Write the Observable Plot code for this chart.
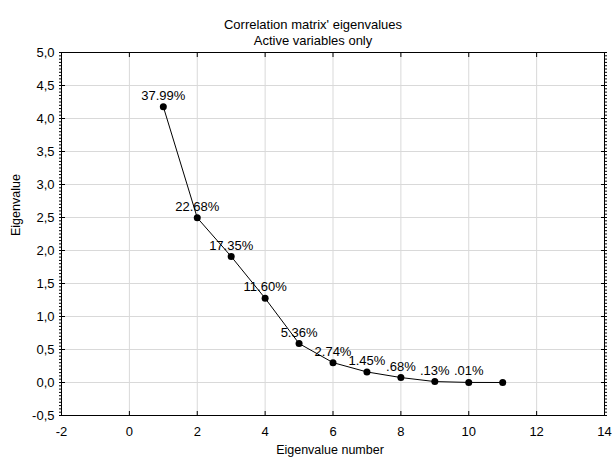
<!DOCTYPE html>
<html>
<head>
<meta charset="utf-8">
<script src="https://cdn.jsdelivr.net/npm/d3@7"></script>
<script src="https://cdn.jsdelivr.net/npm/@observablehq/plot@0.6"></script>
<style>
  html, body { margin: 0; padding: 0; background: #fff; }
  svg { display: block; }
</style>
</head>
<body>
<div id="chart"></div>
<script>
const eigenNumbers = [1, 2, 3, 4, 5, 6, 7, 8, 9, 10, 11];
const eigenvalues = [4.179, 2.495, 1.909, 1.276, 0.590, 0.301, 0.160, 0.075, 0.014, 0.001, 0.000];
const pctLabels = ["37.99%", "22.68%", "17.35%", "11.60%", "5.36%", "2.74%", "1.45%", ".68%", ".13%", ".01%", ""];
const xTicks = [-2, 0, 2, 4, 6, 8, 10, 12, 14];
const yTicks = [-0.5, 0, 0.5, 1, 1.5, 2, 2.5, 3, 3.5, 4, 4.5, 5];
const titleLines = ["Correlation matrix' eigenvalues", "Active variables only"];

const data = eigenNumbers.map((n, i) => ({n, v: eigenvalues[i], label: pctLabels[i]}));
const minorY = d3.range(-0.5, 5.0001, 0.05);
const fmtY = d => d.toFixed(1).replace(".", ",").replace("\u2212", "-");
const blank = () => "";

const font = "Liberation Sans, Arial, sans-serif";

const chart = Plot.plot({
  width: 614,
  height: 459,
  marginLeft: 61,
  marginRight: 10,
  marginTop: 52,
  marginBottom: 44,
  style: {fontFamily: font, fontSize: "13px", color: "#000", background: "#fff"},
  x: {domain: [-2, 14]},
  y: {domain: [-0.5, 5]},
  marks: [
    Plot.gridX(xTicks, {stroke: "#d9d9d9", strokeOpacity: 1}),
    Plot.gridY(yTicks, {stroke: "#d9d9d9", strokeOpacity: 1}),
    Plot.frame({stroke: "#000", strokeWidth: 1}),
    Plot.axisX({ticks: xTicks, tickSize: 0, tickPadding: 11, tickFormat: d => String(d), fontSize: 13, label: null}),
    Plot.axisX({ticks: xTicks, anchor: "bottom", tickSize: -4, tickFormat: blank, label: null}),
    Plot.axisX({ticks: xTicks, anchor: "top", tickSize: -4, tickFormat: blank, label: null}),
    Plot.axisY({ticks: yTicks, tickSize: 0, tickPadding: 7, tickFormat: fmtY, fontSize: 13, label: null}),
    Plot.axisY({ticks: yTicks, anchor: "left", tickSize: -4, tickFormat: blank, label: null}),
    Plot.axisY({ticks: minorY, anchor: "left", tickSize: 2, tickFormat: blank, label: null}),
    Plot.axisY({ticks: yTicks, anchor: "right", tickSize: -4, tickFormat: blank, label: null}),
    Plot.axisY({ticks: minorY, anchor: "right", tickSize: 2, tickFormat: blank, label: null}),
    Plot.line(data, {x: "n", y: "v", stroke: "#000", strokeWidth: 1}),
    Plot.dot(data, {x: "n", y: "v", r: 3.5, fill: "#000", stroke: "none"}),
    Plot.text(data, {x: "n", y: "v", text: "label", dy: -7, lineAnchor: "bottom", textAnchor: "middle", fontSize: 13, fill: "#000"}),
    Plot.text(["Eigenvalue number"], {frameAnchor: "bottom", dy: 38, dx: -3, fontSize: 12.5, fill: "#000"}),
    Plot.text(["Eigenvalue"], {frameAnchor: "left", dx: -46, dy: 2, rotate: -90, fontSize: 12.5, fill: "#000"}),
    Plot.text([titleLines[0]], {frameAnchor: "top", dx: -20, dy: -33, fontSize: 13, fill: "#000"}),
    Plot.text([titleLines[1]], {frameAnchor: "top", dx: -20, dy: -17, fontSize: 13, fill: "#000"})
  ]
});
document.getElementById("chart").appendChild(chart);
</script>
</body>
</html>
